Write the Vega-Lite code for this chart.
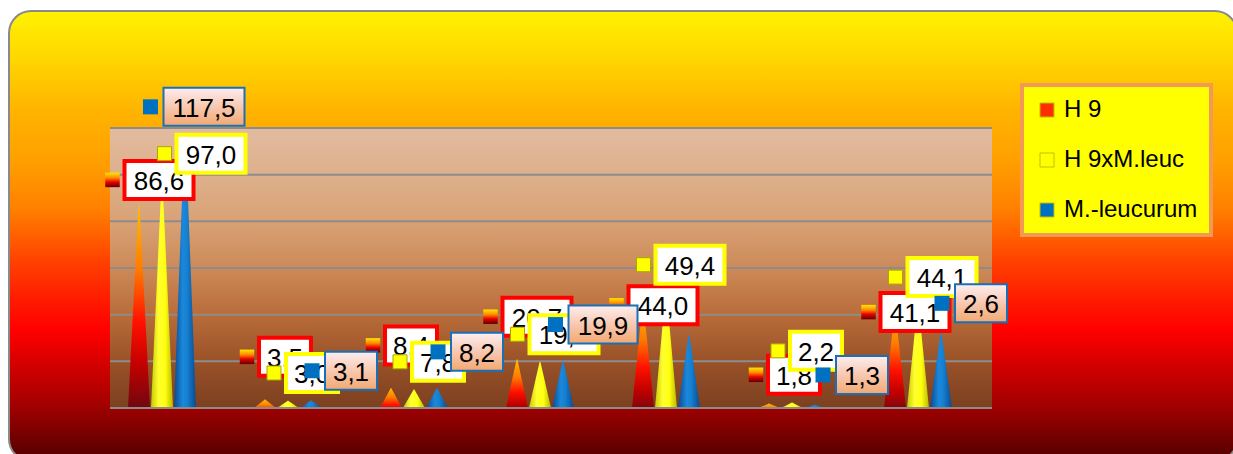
{
  "$schema": "https://vega.github.io/schema/vega-lite/v6.json",
  "width": 1228,
  "height": 450,
  "autosize": {"type": "none"},
  "padding": {"left": 9, "top": 11, "right": -4, "bottom": -7},
  "background": "#ffffff",
  "config": {
    "view": {
      "fill": {"gradient": "linear", "x1": 0, "y1": 0, "x2": 0, "y2": 1, "stops": [
        {"offset": 0, "color": "#fff200"},
        {"offset": 0.1, "color": "#ffd800"},
        {"offset": 0.22, "color": "#ffb400"},
        {"offset": 0.33, "color": "#ffa000"},
        {"offset": 0.44, "color": "#ff8000"},
        {"offset": 0.55, "color": "#ff4400"},
        {"offset": 0.63, "color": "#ff2000"},
        {"offset": 0.71, "color": "#ff0000"},
        {"offset": 0.8, "color": "#cc0000"},
        {"offset": 0.88, "color": "#a00000"},
        {"offset": 1, "color": "#500000"}
      ]},
      "stroke": "#8a8a8a",
      "strokeWidth": 2,
      "cornerRadius": 22
    },
    "legend": {"strokeWidth": 4},
    "locale": {"number": {"decimal": ",", "thousands": ".", "grouping": [3], "currency": ["", " €"]}}
  },
  "datasets": {
    "cones": [
      {"group": "1", "series": "H 9", "value": 86.6, "label": 86.6},
      {"group": "1", "series": "H 9xM.leuc", "value": 97.0, "label": 97.0},
      {"group": "1", "series": "M.-leucurum", "value": 117.5, "label": 117.5},
      {"group": "2", "series": "H 9", "value": 3.5, "label": 3.5},
      {"group": "2", "series": "H 9xM.leuc", "value": 3.0, "label": 3.0},
      {"group": "2", "series": "M.-leucurum", "value": 3.1, "label": 3.1},
      {"group": "3", "series": "H 9", "value": 8.4, "label": 8.4},
      {"group": "3", "series": "H 9xM.leuc", "value": 7.8, "label": 7.8},
      {"group": "3", "series": "M.-leucurum", "value": 8.2, "label": 8.2},
      {"group": "4", "series": "H 9", "value": 20.7, "label": 20.7},
      {"group": "4", "series": "H 9xM.leuc", "value": 19.6, "label": 19.6},
      {"group": "4", "series": "M.-leucurum", "value": 19.9, "label": 19.9},
      {"group": "5", "series": "H 9", "value": 44.0, "label": 44.0},
      {"group": "5", "series": "H 9xM.leuc", "value": 49.4, "label": 49.4},
      {"group": "5", "series": "M.-leucurum", "value": 31.0, "label": null},
      {"group": "6", "series": "H 9", "value": 1.8, "label": 1.8},
      {"group": "6", "series": "H 9xM.leuc", "value": 2.2, "label": 2.2},
      {"group": "6", "series": "M.-leucurum", "value": 1.3, "label": 1.3},
      {"group": "7", "series": "H 9", "value": 41.1, "label": 41.1},
      {"group": "7", "series": "H 9xM.leuc", "value": 44.1, "label": 44.1},
      {"group": "7", "series": "M.-leucurum", "value": 32.0, "label": 2.6}
    ],
    "grid": [{"g": 0}, {"g": 20}, {"g": 40}, {"g": 60}, {"g": 80}, {"g": 100}, {"g": 120}]
  },
  "data": {"name": "cones"},
  "layer": [
    {
      "data": {"name": "grid"},
      "transform": [{"filter": "datum.g === 120"}],
      "mark": {"type": "rect", "strokeWidth": 0, "color": {"gradient": "linear", "x1": 0, "y1": 0, "x2": 0, "y2": 1, "stops": [
        {"offset": 0, "color": "#e2bba0"},
        {"offset": 0.17, "color": "#ddb08c"},
        {"offset": 0.33, "color": "#d9a276"},
        {"offset": 0.5, "color": "#cc8a58"},
        {"offset": 0.67, "color": "#b86c3a"},
        {"offset": 0.83, "color": "#9a5228"},
        {"offset": 1, "color": "#7c4020"}
      ]}},
      "encoding": {
        "x": {"datum": "1", "type": "nominal", "bandPosition": 0, "scale": {"domain": ["1", "2", "3", "4", "5", "6", "7"], "range": [101, 983], "paddingInner": 0, "paddingOuter": 0}, "axis": null},
        "x2": {"datum": "7", "bandPosition": 1},
        "y": {"datum": 0, "type": "quantitative", "scale": {"domain": [0, 120], "range": [397, 117], "nice": false, "zero": false}, "axis": null},
        "y2": {"datum": 120}
      }
    },
    {
      "data": {"name": "grid"},
      "mark": {"type": "rule", "color": "#8c8c8c", "strokeWidth": 2},
      "encoding": {
        "y": {"field": "g", "type": "quantitative"},
        "x": {"datum": "1", "type": "nominal", "bandPosition": 0},
        "x2": {"datum": "7", "bandPosition": 1}
      }
    },
    {
      "transform": [
        {"filter": "datum.series === 'H 9'"},
        {"calculate": "0", "as": "base"},
        {"fold": ["value", "base"], "as": ["part", "v"]}
      ],
      "mark": {"type": "trail", "opacity": 1, "color": {"gradient": "linear", "x1": 0, "y1": 1, "x2": 0, "y2": 0, "stops": [
        {"offset": 0, "color": "#5a0a14"},
        {"offset": 0.25, "color": "#c00000"},
        {"offset": 0.45, "color": "#ff1000"},
        {"offset": 0.7, "color": "#ff7a00"},
        {"offset": 1, "color": "#ffc000"}
      ]}},
      "encoding": {
        "x": {"field": "group", "type": "nominal"},
        "xOffset": {"field": "series", "type": "nominal", "scale": {"domain": ["H 9", "H 9xM.leuc", "M.-leucurum"], "range": [29, 75], "paddingInner": 0, "paddingOuter": 0}},
        "y": {"field": "v", "type": "quantitative"},
        "detail": {"field": "group"},
        "order": {"field": "v", "type": "quantitative"},
        "size": {"condition": {"test": "datum.part === 'base'", "value": 22}, "value": 0}
      }
    },
    {
      "transform": [
        {"filter": "datum.series === 'H 9xM.leuc'"},
        {"calculate": "0", "as": "base"},
        {"fold": ["value", "base"], "as": ["part", "v"]}
      ],
      "mark": {"type": "trail", "opacity": 1, "color": {"gradient": "linear", "x1": 0, "y1": 0, "x2": 1, "y2": 0, "stops": [
        {"offset": 0, "color": "#c8c800"},
        {"offset": 0.35, "color": "#ffff30"},
        {"offset": 0.65, "color": "#ffff10"},
        {"offset": 1, "color": "#b8b800"}
      ]}},
      "encoding": {
        "x": {"field": "group", "type": "nominal"},
        "xOffset": {"field": "series", "type": "nominal"},
        "y": {"field": "v", "type": "quantitative"},
        "detail": {"field": "group"},
        "order": {"field": "v", "type": "quantitative"},
        "size": {"condition": {"test": "datum.part === 'base'", "value": 22}, "value": 0}
      }
    },
    {
      "transform": [
        {"filter": "datum.series === 'M.-leucurum'"},
        {"calculate": "0", "as": "base"},
        {"fold": ["value", "base"], "as": ["part", "v"]}
      ],
      "mark": {"type": "trail", "opacity": 1, "color": {"gradient": "linear", "x1": 0, "y1": 0, "x2": 1, "y2": 0, "stops": [
        {"offset": 0, "color": "#0a4a90"},
        {"offset": 0.4, "color": "#1a88dc"},
        {"offset": 0.6, "color": "#1680d0"},
        {"offset": 1, "color": "#0a4a90"}
      ]}},
      "encoding": {
        "x": {"field": "group", "type": "nominal"},
        "xOffset": {"field": "series", "type": "nominal"},
        "y": {"field": "v", "type": "quantitative"},
        "detail": {"field": "group"},
        "order": {"field": "v", "type": "quantitative"},
        "size": {"condition": {"test": "datum.part === 'base'", "value": 22}, "value": 0}
      }
    },
    {
      "data": {"name": "grid"},
      "transform": [{"filter": "datum.g === 0"}],
      "mark": {"type": "rect", "strokeWidth": 0, "color": {"gradient": "linear", "x1": 0, "y1": 0, "x2": 0, "y2": 1, "stops": [
        {"offset": 0, "color": "#9d0000"},
        {"offset": 1, "color": "#590000"}
      ]}},
      "encoding": {
        "x": {"datum": "1", "type": "nominal", "bandPosition": 0},
        "x2": {"datum": "7", "bandPosition": 1},
        "y": {"datum": -0.4, "type": "quantitative"},
        "y2": {"datum": -20}
      }
    },
    {
      "data": {"name": "grid"},
      "transform": [{"filter": "datum.g === 0"}],
      "mark": {"type": "rule", "color": "#8c8c8c", "strokeWidth": 2},
      "encoding": {
        "y": {"field": "g", "type": "quantitative"},
        "x": {"datum": "1", "type": "nominal", "bandPosition": 0},
        "x2": {"datum": "7", "bandPosition": 1}
      }
    },
    {
      "transform": [{"filter": "datum.series === 'H 9' && isValid(datum.label)"}],
      "mark": {"type": "point", "filled": true, "opacity": 1, "size": 4, "fill": "#ffffff", "stroke": "#ff0000", "strokeWidth": 4,
        "shape": {"expr": "datum.label >= 100 ? 'M-40.5,-19H40.5V19H-40.5Z' : datum.label >= 10 ? 'M-34.5,-19H34.5V19H-34.5Z' : 'M-26,-19H26V19H-26Z'"},
        "xOffset": {"expr": "datum.value < 2.5 ? -9 : -14"},
        "yOffset": {"expr": "datum.value >= 80 ? -26 : datum.value > 40 ? 0 : datum.value < 2.5 ? -29 : -43"}},
      "encoding": {"x": {"field": "group", "type": "nominal"}, "y": {"field": "value", "type": "quantitative"}}
    },
    {
      "transform": [{"filter": "datum.series === 'H 9' && isValid(datum.label)"}],
      "mark": {"type": "point", "shape": "square", "filled": true, "opacity": 1, "size": 210,
        "color": {"gradient": "linear", "x1": 0, "y1": 0, "x2": 0, "y2": 1, "stops": [
          {"offset": 0, "color": "#ffe600"},
          {"offset": 0.35, "color": "#ff8a00"},
          {"offset": 0.65, "color": "#e80000"},
          {"offset": 1, "color": "#600000"}
        ]},
        "xOffset": {"expr": "(datum.value < 2.5 ? -9 : -14) - (datum.label >= 100 ? 42.5 : datum.label >= 10 ? 36.5 : 28) - 10"},
        "yOffset": {"expr": "datum.value >= 80 ? -26 : datum.value > 40 ? 0 : datum.value < 2.5 ? -29 : -43"}},
      "encoding": {"x": {"field": "group", "type": "nominal"}, "y": {"field": "value", "type": "quantitative"}}
    },
    {
      "transform": [{"filter": "datum.series === 'H 9' && isValid(datum.label)"}],
      "mark": {"type": "text", "font": "Liberation Sans", "fontSize": 26, "color": "#000000", "align": "center", "baseline": "middle", "dy": 2,
        "xOffset": {"expr": "datum.value < 2.5 ? -9 : -14"},
        "yOffset": {"expr": "datum.value >= 80 ? -26 : datum.value > 40 ? 0 : datum.value < 2.5 ? -29 : -43"}},
      "encoding": {"x": {"field": "group", "type": "nominal"}, "y": {"field": "value", "type": "quantitative"}, "text": {"field": "label", "type": "quantitative", "format": ".1f"}}
    },
    {
      "transform": [{"filter": "datum.series === 'H 9xM.leuc' && isValid(datum.label)"}],
      "mark": {"type": "point", "filled": true, "opacity": 1, "size": 4, "fill": "#ffffff", "stroke": "#ffff00", "strokeWidth": 4,
        "shape": {"expr": "datum.label >= 100 ? 'M-40.5,-19H40.5V19H-40.5Z' : datum.label >= 10 ? 'M-34.5,-19H34.5V19H-34.5Z' : 'M-26,-19H26V19H-26Z'"},
        "xOffset": {"expr": "-11 + (datum.value >= 80 ? 49 : 24)"},
        "yOffset": {"expr": "datum.value < 2.5 ? -52 : -28"}},
      "encoding": {"x": {"field": "group", "type": "nominal"}, "y": {"field": "value", "type": "quantitative"}}
    },
    {
      "transform": [{"filter": "datum.series === 'H 9xM.leuc' && isValid(datum.label)"}],
      "mark": {"type": "point", "shape": "square", "filled": true, "opacity": 1, "size": 196, "stroke": "#a8a800", "strokeWidth": 1,
        "xOffset": {"expr": "-11 + (datum.value >= 80 ? 49 : 24) - (datum.label >= 100 ? 42.5 : datum.label >= 10 ? 36.5 : 28) - 10"},
        "yOffset": {"expr": "datum.value < 2.5 ? -52 : -28"}},
      "encoding": {
        "x": {"field": "group", "type": "nominal"},
        "y": {"field": "value", "type": "quantitative"},
        "color": {"field": "series", "type": "nominal",
          "scale": {"domain": ["H 9", "H 9xM.leuc", "M.-leucurum"], "range": ["#ff3000", "#ffff00", "#0070c0"]},
          "legend": {"orient": "none", "legendX": 1013, "legendY": 74, "title": null,
            "fillColor": "#ffff00", "strokeColor": "#f29a55", "padding": 13,
            "symbolType": "square", "symbolSize": 196, "symbolStrokeColor": "#c0c000", "symbolStrokeWidth": 1,
            "labelFont": "Liberation Sans", "labelFontSize": 24, "labelColor": "#000000",
            "rowPadding": 26, "labelOffset": 5, "labelExpr": "datum.label + '   '"}}
      }
    },
    {
      "transform": [{"filter": "datum.series === 'H 9xM.leuc' && isValid(datum.label)"}],
      "mark": {"type": "text", "font": "Liberation Sans", "fontSize": 26, "color": "#000000", "align": "center", "baseline": "middle", "dy": 2,
        "xOffset": {"expr": "-11 + (datum.value >= 80 ? 49 : 24)"},
        "yOffset": {"expr": "datum.value < 2.5 ? -52 : -28"}},
      "encoding": {"x": {"field": "group", "type": "nominal"}, "y": {"field": "value", "type": "quantitative"}, "text": {"field": "label", "type": "quantitative", "format": ".1f"}}
    },
    {
      "transform": [{"filter": "datum.series === 'M.-leucurum' && isValid(datum.label)"}],
      "mark": {"type": "point", "filled": true, "opacity": 1, "size": 4, "stroke": "#1a70b8", "strokeWidth": 2,
        "fill": {"gradient": "linear", "x1": 0, "y1": 0, "x2": 0, "y2": 1, "stops": [
          {"offset": 0, "color": "#fdeef0"},
          {"offset": 0.5, "color": "#f8c8b0"},
          {"offset": 1, "color": "#f2a870"}
        ]},
        "shape": {"expr": "datum.label >= 100 ? 'M-40.5,-19H40.5V19H-40.5Z' : datum.label >= 10 ? 'M-34.5,-19H34.5V19H-34.5Z' : 'M-26,-19H26V19H-26Z'"},
        "xOffset": {"expr": "12 + (datum.value >= 80 ? 19 : datum.value < 2.5 ? 47 : 40)"},
        "yOffset": {"expr": "datum.value >= 80 ? -27 : datum.value > 5 && datum.value < 25 ? -37 : -30"}},
      "encoding": {"x": {"field": "group", "type": "nominal"}, "y": {"field": "value", "type": "quantitative"}}
    },
    {
      "transform": [{"filter": "datum.series === 'M.-leucurum' && isValid(datum.label)"}],
      "mark": {"type": "point", "shape": "square", "filled": true, "opacity": 1, "size": 225,
        "xOffset": {"expr": "12 + (datum.value >= 80 ? 19 : datum.value < 2.5 ? 47 : 40) - (datum.label >= 100 ? 41.5 : datum.label >= 10 ? 35.5 : 27) - 12"},
        "yOffset": {"expr": "datum.value >= 80 ? -27 : datum.value > 5 && datum.value < 25 ? -37 : -30"}},
      "encoding": {
        "x": {"field": "group", "type": "nominal"},
        "y": {"field": "value", "type": "quantitative"},
        "color": {"field": "series", "type": "nominal"}
      }
    },
    {
      "transform": [{"filter": "datum.series === 'M.-leucurum' && isValid(datum.label)"}],
      "mark": {"type": "text", "font": "Liberation Sans", "fontSize": 26, "color": "#000000", "align": "center", "baseline": "middle", "dy": 2,
        "xOffset": {"expr": "12 + (datum.value >= 80 ? 19 : datum.value < 2.5 ? 47 : 40)"},
        "yOffset": {"expr": "datum.value >= 80 ? -27 : datum.value > 5 && datum.value < 25 ? -37 : -30"}},
      "encoding": {"x": {"field": "group", "type": "nominal"}, "y": {"field": "value", "type": "quantitative"}, "text": {"field": "label", "type": "quantitative", "format": ".1f"}}
    }
  ]
}
